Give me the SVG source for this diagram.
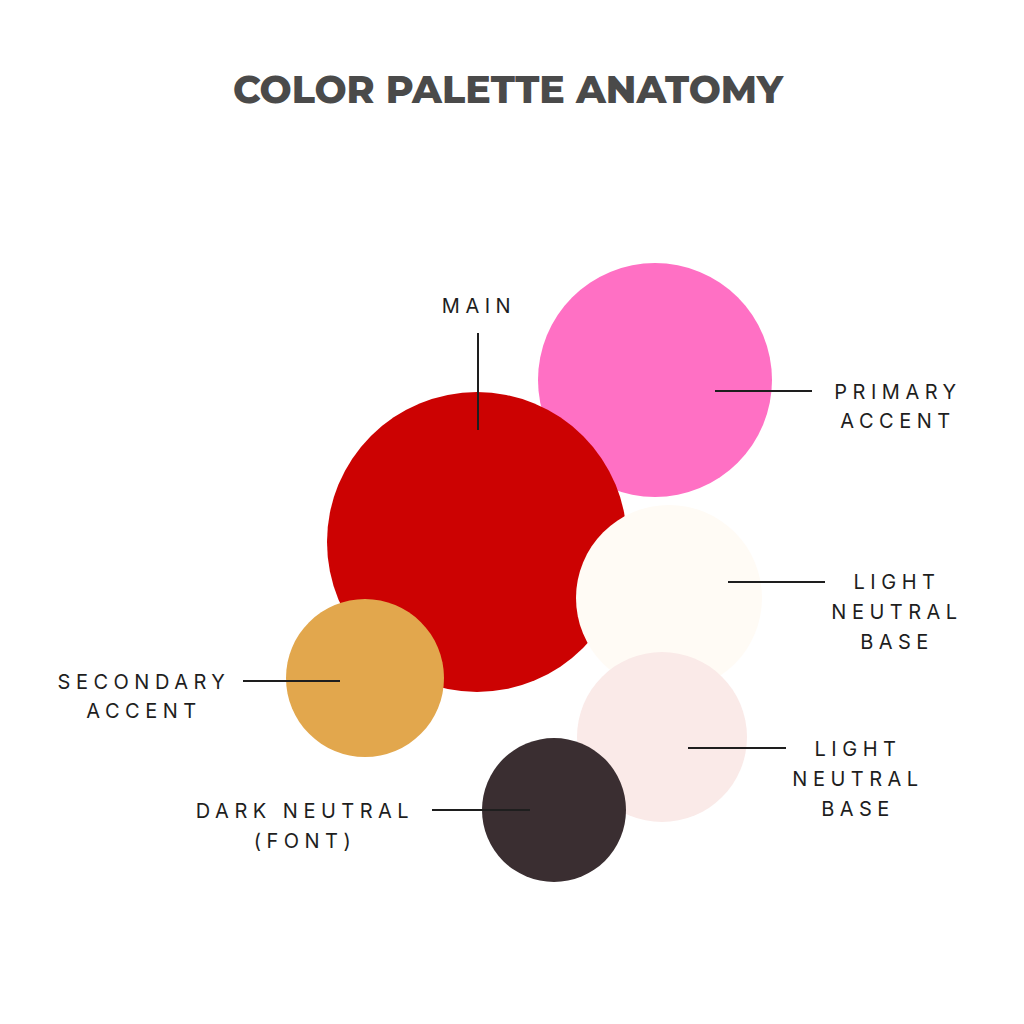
<svg xmlns="http://www.w3.org/2000/svg" width="1024" height="1024" viewBox="0 0 1024 1024">
<style>
.title{font-family:"Montserrat","Inter","Liberation Sans",sans-serif;font-weight:800;font-size:38px;fill:#4a4a4a;text-anchor:middle}
.lbl{font-family:"Inter","Liberation Sans",sans-serif;font-size:20px;fill:#1e1e1e;letter-spacing:5.5px;text-anchor:middle}
.ln{stroke:#1e1e1e;stroke-width:2;fill:none}
</style>
<rect width="1024" height="1024" fill="#ffffff"/>
<text class="title" x="508" y="103">COLOR PALETTE ANATOMY</text>
<g id="primary"><circle cx="655" cy="380" r="117" fill="#ff70c4"/>
<text class="lbl" x="898" y="399">PRIMARY</text><text class="lbl" x="898" y="428">ACCENT</text></g>
<g id="main"><circle cx="477" cy="542" r="150" fill="#cc0202"/>
<text class="lbl" x="479" y="313">MAIN</text></g>
<g id="light1"><circle cx="669" cy="598" r="93" fill="#fffbf5"/>
<text class="lbl" x="897" y="589">LIGHT</text><text class="lbl" x="897" y="619">NEUTRAL</text><text class="lbl" x="897" y="649">BASE</text></g>
<g id="light2"><circle cx="662" cy="737" r="85" fill="#faeae8"/>
<text class="lbl" x="858" y="756">LIGHT</text><text class="lbl" x="858" y="786">NEUTRAL</text><text class="lbl" x="858" y="816">BASE</text></g>
<g id="secondary"><circle cx="365" cy="678" r="79" fill="#e2a74d"/>
<text class="lbl" x="144" y="689">SECONDARY</text><text class="lbl" x="144" y="718">ACCENT</text></g>
<g id="dark"><circle cx="554" cy="810" r="72" fill="#3a2e31"/>
<text class="lbl" x="305" y="818">DARK NEUTRAL</text><text class="lbl" x="305" y="848">(FONT)</text></g>
<g id="connectors">
<line class="ln" x1="478" y1="333" x2="478" y2="430"/>
<line class="ln" x1="715" y1="391" x2="812" y2="391"/>
<line class="ln" x1="728" y1="582" x2="825" y2="582"/>
<line class="ln" x1="688" y1="748" x2="786" y2="748"/>
<line class="ln" x1="243" y1="681" x2="340" y2="681"/>
<line class="ln" x1="432" y1="810" x2="530" y2="810"/>
</g>
</svg>
